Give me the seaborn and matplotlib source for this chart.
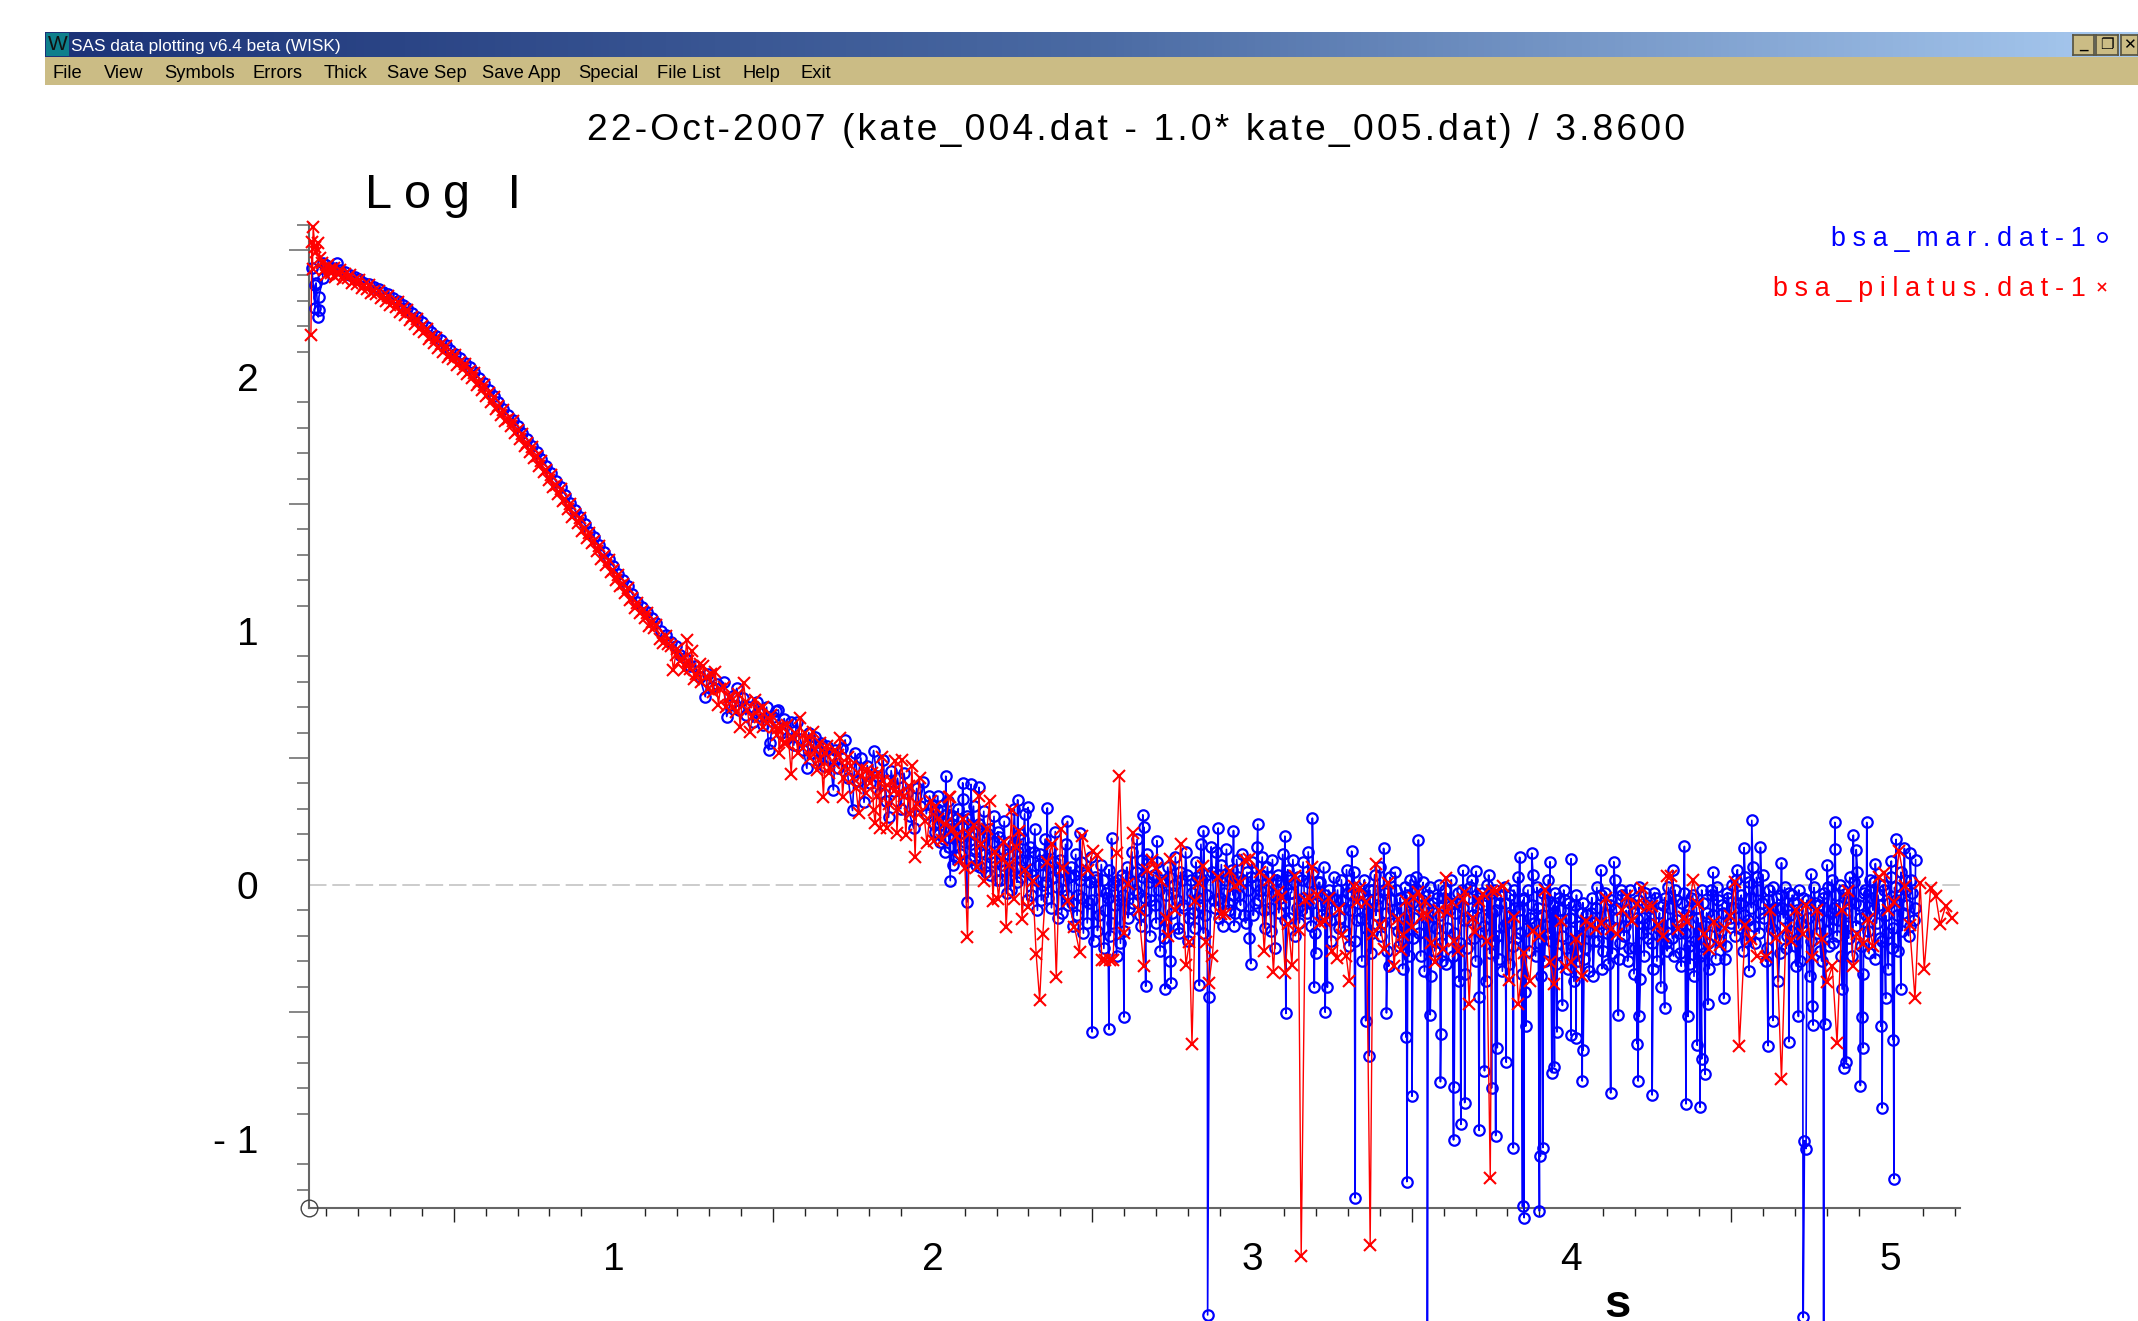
import pandas as pd
import numpy as np
import matplotlib.pyplot as plt
import seaborn as sns
from matplotlib.colors import LinearSegmentedColormap
from matplotlib.patches import Rectangle
from matplotlib.ticker import MultipleLocator

WIDTH, HEIGHT = 2138, 1321

title_text = "22-Oct-2007 (kate_004.dat - 1.0* kate_005.dat) / 3.8600"
window_title = "SAS data plotting v6.4 beta (WISK)"
menu_items = ["File", "View", "Symbols", "Errors", "Thick", "Save Sep", "Save App", "Special", "File List", "Help", "Exit"]
menu_left = [53, 104, 164, 253, 324, 387, 482, 578, 657, 742, 800]
series_names = ["bsa_mar.dat-1", "bsa_pilatus.dat-1"]
x_ticks = [1, 2, 3, 4, 5]
y_ticks = [-1, 0, 1, 2]

# smooth part of the curve, low angle
mar_curve = [(.056,2.43),(.066,2.27),(.069,2.37),(.066,2.36),(.076,2.236),(.078,2.315),(.078,2.264),(.09,2.39),(.09,2.45),(.1,2.44),(.11,2.43),(.122,2.43),(.134,2.45),
(.145,2.42),(.16,2.415),(.175,2.40),(.19,2.395),(.205,2.385),(.22,2.37),(.235,2.365),(.25,2.355),(.265,2.345),(.28,2.335),(.295,2.325),(.31,2.31),(.325,2.30),(.34,2.285),
(.355,2.27),(.37,2.25),(.385,2.235),(.4,2.215),(.415,2.195),(.43,2.175),(.445,2.16),(.46,2.145),(.475,2.125),(.49,2.105),(.505,2.09),(.52,2.075),(.535,2.055),(.55,2.04),
(.565,2.02),(.58,1.995),(.595,1.975),(.61,1.95),(.625,1.925),(.64,1.90),(.655,1.875),(.67,1.85),(.685,1.83),(.7,1.805),(.715,1.78),(.73,1.755),(.745,1.73),(.76,1.705),
(.775,1.675),(.79,1.65),(.805,1.62),(.82,1.59),(.835,1.565),(.85,1.535),(.865,1.505),(.88,1.475),(.895,1.45),(.91,1.42),(.925,1.39),(.94,1.37),(.955,1.34),(.97,1.31),
(.985,1.285),(1.0,1.255),(1.015,1.225),(1.03,1.20),(1.045,1.175),(1.06,1.145),(1.075,1.115),(1.09,1.095),(1.105,1.075),(1.12,1.05),(1.135,1.03),(1.15,1.0),(1.165,.985),
(1.18,.955),(1.195,.94),(1.21,.905),(1.225,.895),(1.24,.86),(1.255,.86),(1.27,.82),(1.288,.741),(1.295,.83),(1.31,.78),(1.325,.79),(1.345,.797),(1.355,.663),(1.365,.71),
(1.375,.745),(1.387,.774),(1.395,.69),(1.405,.735),(1.415,.67),(1.425,.70),(1.437,.64),(1.449,.722),(1.46,.68),(1.47,.63),(1.48,.70),(1.486,.531),(1.491,.56),(1.5,.66),
(1.508,.685),(1.517,.689),(1.525,.60),(1.535,.655),(1.545,.58),(1.555,.64),(1.565,.55),(1.575,.643),(1.585,.575),(1.595,.53),(1.606,.459),(1.612,.60),(1.622,.52),
(1.632,.584),(1.64,.49),(1.65,.56),(1.66,.47),(1.668,.545),(1.678,.50),(1.689,.374),(1.695,.53),(1.705,.46),(1.715,.54),(1.726,.571),(1.735,.42),(1.749,.293),(1.757,.518),
(1.765,.41),(1.775,.50),(1.785,.325),(1.795,.47),(1.805,.40),(1.815,.529),(1.825,.43),(1.835,.36),(1.845,.49),(1.855,.33),(1.862,.266),(1.87,.45),(1.88,.37),(1.89,.42),
(1.9,.30),(1.91,.44),(1.92,.36),(1.93,.27),(1.94,.223),(1.95,.38),(1.96,.31),(1.971,.407),(1.98,.28),(1.99,.35)]

# noisy band at high angle
mar_band = [(2.0,.31),(2.008,.21),(2.016,.35),(2.024,.17),(2.032,.29),(2.04,.13),(2.048,.33),(2.056,.22),(2.064,.27),(2.072,.11),
(2.08,.30),(2.088,.19),(2.096,.34),(2.104,.09),(2.112,.26),(2.12,.16),(2.128,.31),(2.136,.08),(2.144,.24),(2.152,.13),
(2.16,.29),(2.168,.05),(2.176,.22),(2.184,.11),(2.192,.27),(2.2,.02),(2.208,.19),(2.216,.08),(2.224,.25),(2.232,-.03),
(2.24,.17),(2.248,.06),(2.256,.30),(2.264,.01),(2.272,.20),(2.28,.10),(2.288,.28),(2.296,-.06),(2.304,.15),(2.312,.04),
(2.32,.22),(2.328,-.10),(2.336,.12),(2.344,.00),(2.352,.18),(2.36,-.05),(2.368,.14),(2.376,.03),(2.384,.21),(2.392,-.13),
(2.4,.10),(2.408,-.02),(2.416,.16),(2.424,-.08),(2.432,.07),(2.44,-.16),(2.448,.12),(2.456,-.04),(2.464,.09),(2.472,-.19),
(2.48,.05),(2.488,-.07),(2.496,.11),(2.504,-.22),(2.512,.02),(2.52,-.12),(2.528,.08),(2.536,-.25),(2.544,-.03),(2.552,.06),
(2.56,-.15),(2.568,.01),(2.576,-.28),(2.584,-.06),(2.592,.04),(2.6,-.18),(2.608,.07),(2.616,-.09),(2.624,.13),(2.632,-.02),
(2.64,.18),(2.648,-.12),(2.656,.10),(2.664,-.05),(2.672,.12),(2.68,-.20),(2.688,.03),(2.696,-.08),(2.704,.09),(2.712,-.26),
(2.72,.01),(2.728,-.14),(2.736,.07),(2.744,-.30),(2.752,-.03),(2.76,.11),(2.768,-.17),(2.776,.05),(2.784,-.08),(2.792,.13),
(2.8,-.22),(2.808,.02),(2.816,-.11),(2.824,.09),(2.832,-.05),(2.84,.16),(2.848,-.19),(2.856,.04),(2.872,.15),(2.88,-.06),
(2.888,.13),(2.896,-.13),(2.904,.08),(2.912,-.03),(2.92,.14),(2.928,-.10),(2.936,.06),(2.944,-.16),(2.952,.10),(2.96,-.04),
(2.968,.12),(2.976,-.12),(2.984,.05),(2.992,-.21),(3.0,.09),(3.008,-.07),(3.016,.15),(3.024,-.02),(3.032,.11),(3.04,-.17),
(3.048,.07),(3.056,-.09),(3.064,.10),(3.072,-.25),(3.08,.04),(3.088,-.05),(3.096,.12),(3.104,-.14),(3.112,.06),(3.12,-.03),
(3.128,.10),(3.136,-.20),(3.144,.03),(3.152,-.10),(3.16,.09),(3.168,-.06),(3.176,.13),(3.184,-.16),(3.192,.05),(3.2,-.27),
(3.208,.01),(3.216,-.08),(3.224,.07),(3.232,-.13),(3.24,-.02),(3.248,-.22),(3.256,.03),(3.264,-.06),(3.272,-.17),(3.28,.02),
(3.288,-.09),(3.296,.06),(3.304,-.24),(3.312,-.04),(3.32,.05),(3.328,-.14),(3.336,-.03),(3.344,-.30),(3.352,.02),(3.36,-.11),
(3.368,-.02),(3.376,-.19),(3.384,.04),(3.392,-.08),(3.4,.07),(3.408,-.15),(3.416,-.03),(3.424,-.26),(3.432,.03),(3.44,-.10),
(3.448,.05),(3.456,-.18),(3.464,-.05),(3.472,-.33),(3.48,-.01),(3.488,-.12),(3.496,.02),(3.504,-.21),(3.512,.03),(3.52,-.08),
(3.528,-.28),(3.536,.01),(3.544,-.13),(3.552,-.04),(3.56,-.36),(3.568,-.07),(3.576,-.17),(3.584,.00),(3.592,-.23),(3.6,-.05),
(3.608,-.31),(3.616,-.10),(3.624,.02),(3.632,-.19),(3.64,-.07),(3.648,-.38),(3.656,-.02),(3.664,-.14),(3.672,-.25),(3.68,-.05),
(3.688,.02),(3.696,-.21),(3.704,-.09),(3.712,-.44),(3.72,-.03),(3.728,-.16),(3.736,.00),(3.744,-.27),(3.752,-.11),(3.76,-.02),
(3.768,-.20),(3.776,-.07),(3.784,-.34),(3.792,-.01),(3.8,-.15),(3.808,-.04),(3.816,-.24),(3.824,-.09),(3.832,.03),(3.84,-.19),
(3.848,-.06),(3.856,-.42),(3.864,-.02),(3.872,-.13),(3.88,.04),(3.888,-.28),(3.896,-.09),(3.904,-.36),(3.912,-.03),(3.92,-.16),
(3.928,.02),(3.936,-.22),(3.944,-.08),(3.952,-.31),(3.96,-.05),(3.968,-.14),(3.976,-.02),(3.984,-.25),(3.992,-.07),(4.0,-.18),
(4.008,-.38),(4.016,-.04),(4.024,-.21),(4.032,-.11),(4.04,-.29),(4.048,-.12),(4.056,-.34),(4.064,-.05),(4.072,-.22),(4.08,-.01),
(4.088,-.15),(4.096,-.33),(4.104,-.03),(4.112,-.19),(4.12,-.08),(4.128,-.27),(4.136,.02),(4.144,-.13),(4.152,-.23),(4.16,-.04),
(4.168,-.16),(4.176,-.30),(4.184,-.02),(4.192,-.11),(4.2,-.25),(4.208,-.06),(4.216,-.37),(4.224,-.13),(4.232,-.03),(4.24,-.21),
(4.248,-.09),(4.256,-.33),(4.264,-.05),(4.272,-.17),(4.28,-.40),(4.288,-.08),(4.296,-.23),(4.304,-.01),(4.312,-.15),(4.32,-.28),
(4.328,-.06),(4.336,-.19),(4.344,-.32),(4.352,-.03),(4.36,-.12),(4.368,-.24),(4.376,-.05),(4.384,-.36),(4.392,-.09),(4.4,-.18),
(4.408,-.02),(4.416,-.27),(4.424,-.11),(4.432,-.33),(4.44,-.04),(4.448,-.16),(4.456,-.01),(4.464,-.22),(4.472,-.08),(4.48,-.29),
(4.488,-.03),(4.496,-.13),(4.504,.00),(4.512,-.20),(4.52,.06),(4.528,-.07),(4.536,-.26),(4.544,.03),(4.552,-.14),(4.56,-.05),
(4.568,.07),(4.576,-.23),(4.584,-.02),(4.592,-.11),(4.6,.04),(4.608,-.30),(4.616,-.06),(4.624,-.17),(4.632,-.01),(4.64,-.09),
(4.648,-.38),(4.656,-.04),(4.664,-.13),(4.672,-.25),(4.68,-.03),(4.688,-.18),(4.696,-.07),(4.704,-.32),(4.712,-.02),(4.72,-.15),
(4.738,-.06),(4.746,-.36),(4.76,-.01),(4.768,-.19),(4.776,-.08),(4.784,-.30),(4.792,-.03),(4.8,-.14),(4.808,-.24),(4.816,.02),
(4.824,-.09),(4.832,-.20),(4.84,.00),(4.848,-.41),(4.856,-.05),(4.864,-.16),(4.872,.03),(4.88,-.28),(4.888,-.07),(4.896,.05),
(4.904,-.13),(4.912,-.35),(4.92,-.02),(4.928,-.18),(4.936,.02),(4.944,-.10),(4.952,-.29),(4.96,-.04),(4.968,-.21),(4.976,.00),
(4.984,-.12),(4.992,-.33),(5.0,.03),(5.008,-.17),(5.016,-.06),(5.024,-.26),(5.032,.05),(5.04,-.11),(5.048,-.02),(5.056,-.20),
(5.064,.02),(5.072,-.14)]

# second pass through the band, the blue there is almost solid
mar_band2 = [(2.004,.24),(2.012,.30),(2.02,.20),(2.028,.25),(2.036,.18),(2.044,.28),(2.052,.15),(2.06,.24),(2.068,.19),(2.076,.26),
(2.084,.12),(2.092,.23),(2.1,.17),(2.108,.27),(2.116,.10),(2.124,.21),(2.132,.14),(2.14,.22),(2.148,.07),(2.156,.19),
(2.164,.12),(2.172,.20),(2.18,.04),(2.188,.17),(2.196,.09),(2.204,.21),(2.212,.02),(2.22,.14),(2.228,.06),(2.236,.12),
(2.244,-.02),(2.252,.16),(2.26,.07),(2.268,.13),(2.276,.03),(2.284,.18),(2.292,.05),(2.3,.10),(2.308,-.04),(2.316,.13),
(2.324,.02),(2.332,.08),(2.34,-.06),(2.348,.10),(2.356,.01),(2.364,.07),(2.372,-.09),(2.38,.09),(2.388,-.01),(2.396,.05),
(2.404,-.11),(2.412,.06),(2.42,-.04),(2.428,.03),(2.436,-.07),(2.444,.04),(2.452,-.12),(2.46,.02),(2.468,-.05),(2.476,.04),
(2.484,-.15),(2.492,.01),(2.5,-.06),(2.508,.03),(2.516,-.18),(2.524,-.02),(2.532,.02),(2.54,-.10),(2.548,-.05),(2.556,-.20),
(2.564,.00),(2.572,-.08),(2.58,.02),(2.588,-.23),(2.596,-.04),(2.604,.03),(2.612,-.13),(2.62,.01),(2.628,-.07),(2.636,.05),
(2.644,-.03),(2.652,-.16),(2.66,.03),(2.668,-.10),(2.676,.01),(2.684,-.06),(2.692,.04),(2.7,-.15),(2.708,-.02),(2.716,.02),
(2.724,-.21),(2.732,-.04),(2.74,.03),(2.748,-.11),(2.756,.00),(2.764,-.06),(2.772,-.19),(2.78,.02),(2.788,-.09),(2.796,.04),
(2.804,-.13),(2.812,-.03),(2.82,-.17),(2.828,.03),(2.836,-.08),(2.844,.02),(2.852,-.12),(2.86,-.04),(2.876,.05),(2.884,-.09),
(2.892,.04),(2.9,-.05),(2.908,-.16),(2.916,.02),(2.924,-.07),(2.932,.03),(2.94,-.04),(2.948,-.11),(2.956,.03),(2.964,-.08),
(2.972,.02),(2.98,-.15),(2.988,-.02),(2.996,.03),(3.004,-.12),(3.012,.00),(3.02,-.06),(3.028,.04),(3.036,-.10),(3.044,-.02),
(3.052,.03),(3.06,-.18),(3.068,-.04),(3.076,.02),(3.084,-.11),(3.092,.01),(3.1,-.07),(3.108,.03),(3.116,-.13),(3.124,-.03),
(3.132,.01),(3.14,-.09),(3.148,-.15),(3.156,.02),(3.164,-.05),(3.172,-.11),(3.18,.01),(3.188,-.07),(3.196,-.19),(3.204,-.03),
(3.212,.01),(3.22,-.12),(3.228,-.04),(3.236,-.07),(3.244,-.14),(3.252,-.05),(3.26,-.10),(3.268,-.02),(3.276,-.13),(3.284,-.06),
(3.292,-.18),(3.3,-.03),(3.308,-.10),(3.316,-.01),(3.324,-.22),(3.332,-.07),(3.34,-.13),(3.348,-.04),(3.356,-.17),(3.364,-.06),
(3.372,-.27),(3.38,-.02),(3.388,-.12),(3.396,-.05),(3.404,-.20),(3.412,-.02),(3.42,-.11),(3.428,-.32),(3.436,-.06),(3.444,-.15),
(3.452,-.02),(3.46,-.24),(3.468,-.09),(3.476,-.16),(3.484,-.04),(3.492,-.28),(3.5,-.07),(3.508,-.13),(3.516,-.02),(3.524,-.19),
(3.532,-.06),(3.54,-.34),(3.548,-.09),(3.556,-.01),(3.564,-.16),(3.572,-.26),(3.58,-.05),(3.588,-.12),(3.596,-.30),(3.604,-.02),
(3.612,-.17),(3.62,-.07),(3.628,-.28),(3.636,-.11),(3.644,-.03),(3.652,-.23),(3.66,-.09),(3.668,-.35),(3.676,-.14),(3.684,-.01),
(3.692,-.12),(3.7,-.30),(3.708,-.05),(3.716,-.19),(3.724,-.08),(3.732,-.38),(3.74,-.13),(3.748,-.03),(3.756,-.22),(3.764,-.10),
(3.772,-.29),(3.78,-.04),(3.788,-.16),(3.796,-.07),(3.804,-.31),(3.812,-.12),(3.82,-.02),(3.828,-.21),(3.836,-.10),(3.844,-.35),
(3.852,-.05),(3.86,-.17),(3.868,-.26),(3.876,-.08),(3.884,-.15),(3.892,-.01),(3.9,-.23),(3.908,-.12),(3.916,-.30),(3.924,-.06),
(3.932,-.19),(3.94,-.11),(3.948,-.03),(3.956,-.27),(3.964,-.10),(3.972,-.20),(3.98,-.06),(3.988,-.33),(3.996,-.13),(4.004,-.24),
(4.012,-.08),(4.02,-.30),(4.028,-.16),(4.036,-.07),(4.044,-.25),(4.052,-.18),(4.06,-.11),(4.068,-.36),(4.076,-.09),(4.084,-.22),
(4.092,-.04),(4.1,-.26),(4.108,-.12),(4.116,-.31),(4.124,-.06),(4.132,-.17),(4.14,-.09),(4.148,-.29),(4.156,-.02),(4.164,-.20),
(4.172,-.10),(4.18,-.25),(4.188,-.07),(4.196,-.35),(4.204,-.13),(4.212,-.01),(4.22,-.19),(4.228,-.28),(4.236,-.08),(4.244,-.15),
(4.252,-.23),(4.26,-.03),(4.268,-.30),(4.276,-.11),(4.284,-.18),(4.292,-.05),(4.3,-.26),(4.308,-.09),(4.316,-.21),(4.324,-.02),
(4.332,-.14),(4.34,-.27),(4.348,-.07),(4.356,-.19),(4.364,-.10),(4.372,-.31),(4.38,-.04),(4.388,-.22),(4.396,-.13),(4.404,-.28),
(4.412,-.07),(4.42,-.16),(4.428,-.23),(4.436,-.02),(4.444,-.12),(4.452,-.29),(4.46,-.06),(4.468,-.18),(4.476,-.11),(4.484,-.24),
(4.492,-.05),(4.5,-.15),(4.508,-.09),(4.516,.02),(4.524,-.17),(4.532,-.04),(4.54,-.12),(4.548,-.22),(4.556,.01),(4.564,-.09),
(4.572,-.16),(4.58,.03),(4.588,-.19),(4.596,-.07),(4.604,-.13),(4.612,-.25),(4.62,-.02),(4.628,-.10),(4.636,-.18),(4.644,-.05),
(4.652,-.27),(4.66,-.09),(4.668,-.01),(4.676,-.20),(4.684,-.12),(4.692,-.04),(4.7,-.24),(4.708,-.10),(4.716,-.30),(4.724,-.05),
(4.742,-.13),(4.75,-.22),(4.764,-.07),(4.772,-.12),(4.78,-.26),(4.788,-.05),(4.796,-.18),(4.804,-.01),(4.812,-.11),(4.82,-.23),
(4.828,-.04),(4.836,-.14),(4.844,-.28),(4.852,-.02),(4.86,-.11),(4.868,-.21),(4.876,-.06),(4.884,.01),(4.892,-.16),(4.9,-.08),
(4.908,-.24),(4.916,-.03),(4.924,-.12),(4.932,-.27),(4.94,-.05),(4.948,.01),(4.956,-.15),(4.964,-.08),(4.972,-.22),(4.98,-.02),
(4.988,-.19),(4.996,-.07),(5.004,-.25),(5.012,-.01),(5.02,-.12),(5.028,-.04),(5.036,-.18),(5.044,.02),(5.052,-.08),(5.06,-.16),
(5.068,-.03),(5.076,-.09)]

mar_lows = [(2.055,.017),(2.065,.079),(2.107,-.068),(2.499,-.579),(2.552,-.568),(2.599,-.52),(2.667,-.399),(2.727,-.409),(2.746,-.387),(2.835,-.396),(2.861,-1.693),(2.866,-.443),
(2.996,-.31),(3.106,-.506),(3.195,-.403),(3.229,-.501),(3.236,-.403),(3.323,-1.232),(3.356,-.535),(3.367,-.672),(3.421,-.504),(3.482,-.599),(3.485,-1.168),(3.501,-.832),
(3.549,-1.95),(3.558,-.511),(3.59,-.775),(3.592,-.586),(3.631,-1.004),(3.633,-.796),(3.654,-.943),(3.666,-.857),(3.711,-.966),(3.728,-.732),(3.75,-.8),(3.763,-.987),(3.768,-.641),
(3.796,-.698),(3.818,-1.035),(3.847,-1.266),(3.852,-1.31),(3.857,-.556),(3.9,-1.284),(3.903,-1.068),(3.911,-1.034),(3.939,-.739),(3.947,-.715),(3.955,-.579),(3.972,-.474),
(3.999,-.592),(4.015,-.603),(4.034,-.772),(4.037,-.651),(4.123,-.819),(4.147,-.514),(4.206,-.625),(4.209,-.772),(4.213,-.516),(4.253,-.827),(4.292,-.484),(4.359,-.862),(4.365,-.518),
(4.394,-.631),(4.403,-.875),(4.408,-.685),(4.419,-.746),(4.427,-.47),(4.477,-.447),(4.556,-.337),(4.616,-.633),(4.631,-.534),(4.681,-.617),(4.711,-.518),(4.726,-1.703),(4.73,-1.007),
(4.735,-1.038),(4.754,-.478),(4.757,-.552),(4.79,-1.95),(4.795,-.548),(4.853,-.722),(4.861,-.698),(4.905,-.79),(4.909,-.52),(4.913,-.641),(4.969,-.556),(4.973,-.878),(4.984,-.447),
(5.007,-.609),(5.01,-1.156),(5.032,-.409)]

mar_highs = [(2.041,.428),(2.094,.402),(2.12,.396),(2.145,.384),(2.266,.335),(2.299,.305),(2.359,.303),(2.422,.25),(2.46,.206),(2.56,.183),(2.658,.276),(2.661,.228),(2.702,.174),
(2.848,.214),(2.894,.224),(2.942,.214),(3.018,.238),(3.103,.192),(3.189,.263),(3.312,.133),(3.412,.144),(3.521,.177),(3.661,.057),(3.702,.053),(3.741,.039),(3.838,.109),(3.876,.125),
(3.933,.091),(3.999,.103),(4.092,.06),(4.133,.091),(4.318,.057),(4.354,.152),(4.444,.049),(4.541,.147),(4.565,.254),(4.592,.148),(4.658,.087),(4.751,.043),(4.801,.079),(4.825,.246),
(4.826,.141),(4.883,.196),(4.892,.139),(4.925,.246),(4.952,.084),(5.002,.094),(5.017,.179),(5.043,.144),(5.061,.125),(5.078,.1)]

pil_curve = [(.053,2.165),(.056,2.53),(.058,2.425),(.06,2.59),(.066,2.51),(.07,2.49),(.075,2.527),(.081,2.47),(.087,2.45),(.095,2.42),(.105,2.44),(.115,2.41),(.125,2.43),(.135,2.41),
(.145,2.42),(.16,2.405),(.175,2.40),(.19,2.38),(.205,2.38),(.22,2.36),(.235,2.36),(.25,2.34),(.265,2.34),(.28,2.32),(.295,2.32),(.31,2.295),(.325,2.295),(.34,2.27),
(.355,2.265),(.37,2.235),(.385,2.23),(.4,2.20),(.415,2.19),(.43,2.16),(.445,2.155),(.46,2.13),(.475,2.12),(.49,2.09),(.505,2.085),(.52,2.06),(.535,2.05),(.55,2.025),
(.565,2.015),(.58,1.98),(.595,1.97),(.61,1.935),(.625,1.92),(.64,1.885),(.655,1.87),(.67,1.835),(.685,1.825),(.7,1.79),(.715,1.775),(.73,1.74),(.745,1.725),(.76,1.69),
(.775,1.67),(.79,1.635),(.805,1.615),(.82,1.575),(.835,1.56),(.85,1.52),(.865,1.50),(.88,1.46),(.895,1.445),(.91,1.405),(.925,1.385),(.94,1.355),(.955,1.335),(.97,1.295),
(.985,1.28),(1.0,1.24),(1.015,1.22),(1.03,1.185),(1.045,1.17),(1.06,1.13),(1.075,1.11),(1.09,1.08),(1.105,1.07),(1.12,1.035),(1.135,1.025),(1.157,.951),(1.165,.98),
(1.18,.94),(1.188,.846),(1.2,.93),(1.215,.89),(1.23,.965),(1.24,.85),(1.246,.919),(1.26,.83),(1.27,.87),(1.282,.86),(1.295,.77),(1.305,.83),(1.319,.84),(1.329,.709),
(1.345,.78),(1.361,.741),(1.375,.70),(1.39,.75),(1.397,.623),(1.408,.794),(1.42,.69),(1.428,.604),(1.444,.728),(1.46,.66),(1.47,.70),(1.481,.636),(1.495,.67),(1.505,.62),
(1.517,.617),(1.519,.518),(1.533,.558),(1.545,.63),(1.557,.437),(1.57,.60),(1.585,.656),(1.595,.54),(1.606,.571),(1.615,.50),(1.624,.604),(1.637,.453),(1.648,.56),(1.658,.348),
(1.669,.545),(1.68,.46),(1.695,.53),(1.71,.577),(1.718,.348),(1.727,.47),(1.736,.505),(1.75,.42),(1.768,.282),(1.78,.46),(1.794,.453),(1.805,.40),(1.815,.295),(1.82,.243),
(1.83,.44),(1.836,.223),(1.841,.505),(1.85,.38),(1.856,.223),(1.87,.41),(1.883,.486),(1.888,.203),(1.895,.36),(1.903,.492),(1.916,.197),(1.925,.39),(1.935,.468),(1.945,.109),
(1.959,.42),(1.964,.287),(1.982,.164),(1.995,.33),(2.003,.171),(2.008,.308),(2.029,.177),(2.052,.345),(2.055,.348),(2.074,.192),(2.086,.098),(2.101,.068)]

# lower edge of the red curve, fills it out to the width seen in the picture
pil_curve2 = [(.1,2.40),(.112,2.425),(.128,2.395),(.14,2.405),(.152,2.385),(.168,2.39),(.182,2.37),(.198,2.365),(.212,2.35),(.228,2.345),(.242,2.33),(.258,2.325),(.272,2.31),(.288,2.30),
(.302,2.285),(.318,2.275),(.332,2.255),(.348,2.245),(.362,2.225),(.378,2.21),(.392,2.19),(.408,2.175),(.422,2.15),(.438,2.135),(.452,2.115),(.468,2.10),(.482,2.08),(.498,2.07),
(.512,2.045),(.528,2.03),(.542,2.01),(.558,1.995),(.572,1.97),(.588,1.95),(.602,1.925),(.618,1.90),(.632,1.875),(.648,1.85),(.662,1.825),(.678,1.805),(.692,1.78),(.708,1.755),
(.722,1.73),(.738,1.705),(.752,1.68),(.768,1.65),(.782,1.625),(.798,1.595),(.812,1.565),(.828,1.54),(.842,1.51),(.858,1.48),(.872,1.45),(.888,1.425),(.902,1.395),(.918,1.365),
(.932,1.345),(.948,1.315),(.962,1.285),(.978,1.26),(.992,1.23),(1.008,1.20),(1.022,1.175),(1.038,1.15),(1.052,1.12),(1.068,1.09),(1.082,1.07),(1.098,1.05),(1.112,1.02),(1.128,1.01),
(1.145,.97),(1.172,.95),(1.195,.905),(1.208,.88),(1.222,.845),(1.235,.88),(1.252,.81),(1.275,.80),(1.29,.82),(1.312,.76),(1.335,.77),(1.352,.70),(1.368,.74),(1.383,.68),(1.415,.72),
(1.435,.66),(1.452,.69),(1.468,.62),(1.49,.65),(1.512,.59),(1.527,.62),(1.54,.56),(1.563,.58),(1.578,.52),(1.6,.60),(1.63,.53),(1.645,.49),(1.663,.52),(1.675,.44),(1.69,.48),
(1.703,.51),(1.722,.42),(1.745,.47),(1.76,.38),(1.775,.43),(1.79,.36),(1.81,.44),(1.825,.35),(1.845,.41),(1.862,.32),(1.878,.37),(1.892,.30),(1.91,.35),(1.93,.28),(1.95,.32),
(1.975,.25),(2.017,.26),(2.04,.24),(2.063,.22),(2.094,.26),(2.115,.20),(2.15,.16),(2.17,.22),(2.195,.13),(2.222,.17),(2.24,.08),(2.26,.15),(2.29,.06)]

# red crosses read one by one from the high angle part
pil_noise = [(2.109,-.207),(2.129,.235),(2.138,.072),(2.145,.352),(2.162,.017),(2.178,.33),(2.189,-.064),(2.206,-.056),(2.217,.104),(2.23,-.166),(2.247,.294),(2.255,-.056),
(2.271,.214),(2.28,-.134),(2.299,-.085),(2.313,.017),(2.324,-.272),(2.335,-.453),(2.345,-.195),(2.359,.09),(2.374,.163),(2.387,-.363),(2.401,.221),(2.409,.068),(2.425,-.064),
(2.444,-.166),(2.46,-.263),(2.469,.192),(2.486,.06),(2.502,.133),(2.515,.119),(2.53,-.297),(2.541,-.297),(2.554,-.297),(2.565,-.297),(2.576,.126),(2.585,.428),(2.599,-.188),
(2.612,.002),(2.628,.206),(2.645,-.1),(2.661,-.319),(2.672,.06),(2.687,.097),(2.7,.068),(2.716,.017),(2.73,-.129),(2.738,-.202),(2.744,.104),(2.76,-.1),(2.777,.163),(2.793,-.316),
(2.804,-.224),(2.812,-.625),(2.823,-.064),(2.834,.009),(2.845,.075),(2.856,-.224),(2.865,-.385),(2.876,-.28),(2.892,.031),(2.903,-.115),(2.914,-.115),(2.931,.053),(2.947,-.005),
(2.961,.009),(2.979,.099),(2.989,.101),(3.026,.049),(3.038,-.262),(3.052,.02),(3.067,-.343),(3.08,-.026),(3.09,-.046),(3.104,-.347),(3.114,-.153),(3.125,-.317),(3.135,.036),
(3.146,-.177),(3.154,-1.46),(3.167,-.059),(3.177,-.052),(3.187,.069),(3.203,-.039),(3.213,-.151),(3.229,-.144),(3.24,-.052),(3.25,-.262),(3.266,-.288),(3.273,-.095),(3.281,-.196),
(3.295,-.279),(3.305,-.38),(3.318,-.004),(3.328,-.069),(3.337,-.013),(3.358,-.069),(3.37,-1.416),(3.378,-.194),(3.389,.083),(3.401,-.157),(3.414,-.253),(3.427,.007),(3.445,-.319),
(3.456,-.135),(3.466,-.258),(3.474,-.196),(3.482,-.063),(3.501,-.166),(3.506,-.052),(3.521,-.026),(3.532,-.124),(3.542,-.065),(3.548,-.118),(3.561,-.229),(3.574,-.304),(3.584,-.098),
(3.597,-.252),(3.607,.027),(3.61,-.105),(3.625,-.069),(3.633,-.219),(3.644,-.26),(3.662,-.056),(3.666,-.029),(3.68,-.467),(3.691,-.13),(3.699,-.185),(3.711,-.065),(3.722,-.035),
(3.735,-.219),(3.746,-1.152),(3.752,-.022),(3.763,-.022),(3.787,-.005),(3.805,-.375),(3.821,-.126),(3.834,-.467),(3.851,-.27),(3.87,-.379),(3.881,-.182),(3.9,-.201),(3.917,-.019),
(3.933,-.303),(3.946,-.389),(3.966,-.144),(3.983,-.323),(3.999,-.303),(4.015,-.212),(4.032,-.359),(4.046,-.144),(4.062,-.158),(4.076,-.174),(4.092,-.151),(4.107,-.052),(4.125,-.174),
(4.144,-.194),(4.158,-.1),(4.175,-.042),(4.191,-.144),(4.206,-.076),(4.222,-.012),(4.237,-.087),(4.252,-.083),(4.27,-.158),(4.287,-.201),(4.301,.035),(4.312,.035),(4.334,-.174),
(4.353,-.128),(4.362,-.147),(4.381,.019),(4.398,-.076),(4.414,-.192),(4.431,-.253),(4.446,-.147),(4.464,-.237),(4.48,-.171),(4.497,-.124),(4.513,.012),(4.526,-.633),(4.545,-.158),
(4.562,-.212),(4.581,-.28),(4.609,-.284),(4.623,-.097),(4.642,-.209),(4.658,-.766),(4.672,-.171),(4.688,-.219),(4.705,-.1),(4.724,-.194),(4.735,-.079),(4.754,-.283),(4.77,-.097),
(4.784,-.212),(4.801,-.382),(4.817,-.321),(4.832,-.622),(4.848,-.1),(4.867,-.022),(4.883,-.321),(4.894,-.192),(4.914,-.232),(4.929,-.133),(4.944,-.242),(4.962,.03),(4.979,.046),
(4.993,-.1),(5.01,-.069),(5.026,.134),(5.045,-.004),(5.059,-.158),(5.076,-.447),(5.092,.009),(5.105,-.332),(5.125,-.011),(5.141,-.045),(5.155,-.155),(5.172,-.083),(5.191,-.13)]


def px_box(x0, y0, x1, y1):
    # pixel box from the top left of the picture, as figure fractions
    return [x0 / WIDTH, 1 - y1 / HEIGHT, (x1 - x0) / WIDTH, (y1 - y0) / HEIGHT]


def tracked(text, n=1):
    return ("\u200a" * n).join(text)


def to_frame(*parts):
    rows = [p for part in parts for p in part]
    return pd.DataFrame(rows, columns=["s", "log_i"])


sns.set_theme(style="white")
plt.rcParams['font.family'] = ['Liberation Sans', 'DejaVu Sans']

fig = plt.figure(figsize=(WIDTH / 100, HEIGHT / 100), dpi=100, facecolor="white")

# window chrome
bar = fig.add_axes(px_box(45, 32, WIDTH, 57))
bar.axis("off")
bar_cmap = LinearSegmentedColormap.from_list("bar", ["#1B3277", "#4A6AA3", "#A8CAF0"])
bar.imshow(np.linspace(0, 1, 256).reshape(1, -1), aspect="auto", cmap=bar_cmap, extent=[0, 1, 0, 1])
menu = fig.add_axes(px_box(45, 57, WIDTH, 85))
menu.axis("off")
menu.add_patch(Rectangle((0, 0), 1, 1, transform=menu.transAxes, color="#CBBC85"))
icon = fig.add_axes(px_box(46, 33, 69, 56))
icon.axis("off")
icon.add_patch(Rectangle((0, 0), 1, 1, transform=icon.transAxes, color="#0E7F8C"))
icon.text(.5, .5, "W", color="#111111", ha="center", va="center", fontsize=15, transform=icon.transAxes)
for x0, x1, glyph in [(2073, 2094, "_"), (2096, 2118, "\u2750"), (2121, 2138, "\u2715")]:
    btn = fig.add_axes(px_box(x0, 35, x1, 55))
    btn.set_xticks([])
    btn.set_yticks([])
    btn.set_facecolor("#CBBC85")
    for sp in btn.spines.values():
        sp.set_color("#5a5540")
    btn.text(.5, .5, glyph, ha="center", va="center", fontsize=11, color="black", transform=btn.transAxes, fontweight="bold")

fig.text(71 / WIDTH, 1 - 46 / HEIGHT, window_title, color="white", fontsize=12.4, va="center")
for label, left in zip(menu_items, menu_left):
    fig.text(left / WIDTH, 1 - 73 / HEIGHT, label, color="black", fontsize=13.2, va="center")

fig.text(1136 / WIDTH, 1 - 130 / HEIGHT, tracked(title_text), color="black", fontsize=26.8, ha="center", va="center")
fig.text(443 / WIDTH, 1 - 195 / HEIGHT, tracked("Log I", 3), color="black", fontsize=35, ha="center", va="center")

# plot
ax = fig.add_axes(px_box(309, 223, 1960, 1208))
ax.patch.set_alpha(0)
ax.axhline(0, color="#cccccc", lw=1.4, ls=(0, (9, 3)), zorder=0)

mar_df = to_frame(mar_curve, mar_band, mar_band2, mar_lows, mar_highs)
pil_df = to_frame(pil_curve, pil_curve2, pil_noise)
sns.lineplot(data=mar_df, x="s", y="log_i", estimator=None, color="#0000FF", lw=1.2, marker="o", markersize=7.5,
             markerfacecolor="none", markeredgecolor="#0000FF", markeredgewidth=1.6, clip_on=False, ax=ax, zorder=3)
sns.lineplot(data=pil_df, x="s", y="log_i", estimator=None, color="#FF0000", lw=1.0, marker="x", markersize=9,
             markeredgecolor="#FF0000", markeredgewidth=1.5, clip_on=False, ax=ax, zorder=4)

ax.set_xlim(.047, 5.217)
ax.set_ylim(-1.272, 2.606)
ax.set_xlabel("")
ax.set_ylabel("")
for side in ("top", "right"):
    ax.spines[side].set_visible(False)
for side in ("left", "bottom"):
    ax.spines[side].set_color("#666666")
    ax.spines[side].set_linewidth(1.5)

ax.xaxis.set_major_locator(MultipleLocator(1))
ax.xaxis.set_minor_locator(MultipleLocator(.1))
ax.yaxis.set_major_locator(MultipleLocator(1))
ax.yaxis.set_minor_locator(MultipleLocator(.1))
ax.set_xticks(x_ticks)
ax.set_yticks(y_ticks)
ax.set_yticklabels(["- 1", "0", "1", "2"])
ax.tick_params(axis="x", which="major", direction="out", length=14.4, width=1, color="#222222", labelsize=28, pad=10, labelcolor="black")
ax.tick_params(axis="x", which="minor", direction="out", length=5.8, width=1, color="#222222", bottom=True)
ax.tick_params(axis="y", which="major", direction="out", length=19.4, width=1.1, color="#666666", labelsize=28, pad=17, labelcolor="black")
ax.tick_params(axis="y", which="minor", direction="out", length=8.6, width=1.1, color="#666666", left=True)

# half unit ticks are a bit longer
fig.canvas.draw()
for tick in ax.xaxis.get_minor_ticks():
    if abs(tick.get_loc() * 2 - round(tick.get_loc() * 2)) < 1e-6:
        tick.tick1line.set_markersize(9.9)
for tick in ax.yaxis.get_minor_ticks():
    if abs(tick.get_loc() * 2 - round(tick.get_loc() * 2)) < 1e-6:
        tick.tick1line.set_markersize(14.4)

# little open circle where the axes meet
ax.plot([0], [0], transform=ax.transAxes, marker="o", ms=12, mfc="none", mec="#444444", mew=1, clip_on=False, zorder=5)

# baseline just above the bottom edge so the letter stays whole
fig.text(1618 / WIDTH, 1 - 1317 / HEIGHT, "s", color="black", fontsize=34, ha="center", va="baseline", fontweight="bold")

# legend drawn as in the program, text right aligned with the symbol after it
fig.text(2086 / WIDTH, 1 - 239 / HEIGHT, tracked(series_names[0], 3), color="#0000FF", fontsize=19.4, ha="right", va="center")
fig.text(2086 / WIDTH, 1 - 289 / HEIGHT, tracked(series_names[1], 3), color="#FF0000", fontsize=19.4, ha="right", va="center")
ax.plot([2102 / WIDTH], [1 - 237 / HEIGHT], transform=fig.transFigure, marker="o", ms=6.5, mfc="none", mec="#0000FF", mew=1.3, clip_on=False)
ax.plot([2102 / WIDTH], [1 - 287 / HEIGHT], transform=fig.transFigure, marker="x", ms=6, mec="#FF0000", mew=1.2, clip_on=False)

fig.savefig("out.png", dpi=100)
